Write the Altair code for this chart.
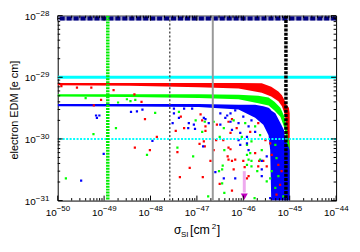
import altair as alt
import pandas as pd

W, H = 280, 186
FONT = "Liberation Sans"

# ---------------- data ----------------
# dense bands of scan points (x, upper edge, lower edge)
red_band_x = [1e-50, 3.5e-49, 1.1e-47, 7.9e-47, 2.5e-46, 4.0e-46, 5.7e-46, 6.8e-46, 7.7e-46, 8.5e-46, 9.1e-46, 9.6e-46, 1.0e-45]
red_band_top = [8.1e-30, 8.1e-30, 8.1e-30, 8.1e-30, 8.0e-30, 7.0e-30, 5.9e-30, 5.1e-30, 4.3e-30, 3.6e-30, 3.4e-30, 3.2e-30, 2.6e-30]
red_band_bot = [7.4e-30, 7.3e-30, 6.9e-30, 6.6e-30, 5.6e-30, 4.9e-30, 4.1e-30, 3.4e-30, 2.6e-30, 1.7e-30, 6.6e-31, 1.8e-31, 1.0e-31]

green_band_x = [1e-50, 3.5e-49, 1.1e-47, 7.9e-47, 2.1e-46, 3.5e-46, 4.7e-46, 6.3e-46, 7.7e-46, 8.5e-46, 9.1e-46, 1.0e-45]
green_band_top = [5.3e-30, 5.3e-30, 5.3e-30, 5.2e-30, 5.0e-30, 4.7e-30, 4.0e-30, 3.2e-30, 2.3e-30, 1.7e-30, 1.15e-30, 8.0e-31]
green_band_bot = [4.9e-30, 4.8e-30, 4.6e-30, 4.4e-30, 3.8e-30, 3.5e-30, 2.9e-30, 2.3e-30, 1.5e-30, 9.6e-31, 3.2e-31, 1.0e-31]

blue_band_x = [1e-50, 3.5e-49, 1.1e-47, 7.9e-47, 1.8e-46, 2.7e-46, 3.5e-46, 3.8e-46, 4.0e-46, 4.9e-46, 6.6e-46, 7.5e-46, 8.1e-46, 9.1e-46, 1.0e-45]
blue_band_top = [3.7e-30, 3.7e-30, 3.7e-30, 3.6e-30, 3.6e-30, 3.4e-30, 3.2e-30, 3.05e-30, 2.9e-30, 2.6e-30, 1.7e-30, 1.4e-30, 9.6e-31, 8.0e-31, 6.6e-31]
blue_band_bot = [3.4e-30, 3.35e-30, 3.3e-30, 3.0e-30, 2.2e-30, 1.7e-30, 1.15e-30, 6.6e-31, 1.0e-31, 1.0e-31, 1.0e-31, 1.0e-31, 1.0e-31, 1.0e-31, 1.0e-31]

# scattered scan points
red_x = [1.2e-50, 2.6e-50, 5.3e-50, 1.6e-49, 4.5e-49, 8.6e-50, 6.4e-49, 6.0e-50, 7.6e-49, 1.37e-48,
         4.6e-49, 9.7e-49, 1.41e-47, 1.14e-47, 3.8e-48, 7.0e-48, 4.3e-48, 1.34e-47, 2.3e-47, 2.6e-47,
         3.7e-47, 4.8e-47, 4.6e-47, 5.7e-47, 3.1e-47, 5.7e-47, 4.5e-48, 1.2e-47, 5.3e-48, 2.7e-47,
         4.8e-47, 1.53e-47, 3.5e-48, 1.53e-47, 1.48e-47, 1.3e-47, 5.3e-47, 4.8e-47, 1.07e-46, 1.8e-46,
         2.1e-46, 1.3e-46, 6.2e-47, 1.96e-47, 6.7e-47, 1.0e-46, 2.2e-46, 2.7e-46, 3.2e-46, 1.2e-46,
         4.1e-46, 5.7e-46, 6.2e-46, 5.2e-46, 3.8e-46, 6.7e-46, 3.0e-46, 5.7e-47, 7.2e-47, 1.41e-46,
         2.1e-46, 5.3e-47]
red_y = [7.2e-30, 6.8e-30, 6.8e-30, 6.2e-30, 5.3e-30, 4.3e-30, 4.0e-30, 3.5e-30, 2.1e-30, 1.08e-30,
         7.2e-31, 6.6e-31, 9.1e-31, 8.3e-31, 6.1e-31, 3.4e-31, 2.4e-31, 2.4e-31, 6.6e-31, 9.6e-31,
         9.6e-31, 7.2e-31, 5.2e-31, 4.4e-31, 1.86e-31, 1.45e-31, 2.3e-30, 2.5e-30, 1.5e-30, 1.7e-30,
         1.9e-30, 1.6e-30, 1.35e-30, 1.35e-30, 7.6e-31, 2.0e-30, 6.8e-31, 4.6e-31, 3.5e-31, 5.9e-31,
         3.6e-31, 2.5e-31, 3.2e-31, 4.4e-31, 4.6e-31, 4.4e-31, 4.4e-31, 4.4e-31, 3.6e-31, 2.3e-31,
         5.5e-31, 3.8e-31, 1.8e-31, 1.25e-31, 8.5e-31, 3.0e-31, 9.6e-31, 2.1e-30, 1.5e-30, 1.3e-30,
         1.8e-30, 1.25e-30]

green_x = [1.5e-50, 5.9e-50, 1.8e-49, 4.0e-50, 2.0e-49, 3.1e-49, 3.7e-49, 4.7e-49, 1.26e-48, 8.4e-49,
           3.8e-48, 8.3e-48, 3.1e-47, 3.9e-47, 3.6e-47, 3.0e-47, 3.5e-47, 3.9e-47, 1.75e-47, 4.1e-48,
           9.4e-48, 2.3e-47, 3.8e-47, 1.3e-47, 1.48e-47, 1.3e-46, 1.5e-46, 2.5e-46, 2.3e-46, 1.2e-46,
           1.5e-46, 3.8e-46, 3.5e-47, 1.2e-46, 1.41e-46, 1.5e-46, 1.2e-46, 2.0e-46, 3.2e-46, 1.75e-46,
           5.7e-46, 4.9e-46, 4.1e-46, 4.9e-46, 5.2e-46, 7.3e-46, 6.2e-47, 1.1e-46, 1.8e-46, 2.3e-46,
           9.3e-47]
green_y = [2.3e-31, 1.2e-30, 1.5e-30, 4.6e-30, 3.9e-30, 4.4e-30, 4.1e-30, 4.3e-30, 2.65e-30, 5.5e-31,
           7.2e-31, 5.2e-31, 1.08e-30, 6.6e-31, 3.7e-31, 3.0e-31, 1.9e-31, 1.33e-31, 1.17e-31, 2.75e-30,
           2.0e-30, 1.9e-30, 1.5e-30, 1.3e-30, 1.9e-30, 4.6e-31, 9.1e-31, 6.6e-31, 4.6e-31, 5.5e-31,
           3.6e-31, 2.3e-31, 3.2e-31, 8.0e-31, 5.9e-31, 4.4e-31, 3.8e-31, 3.0e-31, 2.05e-31, 1.1e-31,
           2.5e-31, 1.6e-31, 3.0e-31, 8.0e-31, 4.9e-31, 1.17e-31, 2.0e-30, 1.8e-30, 1.6e-30, 1.15e-30,
           1.08e-30]

blue_x = [6.7e-50, 7.9e-50, 7.0e-50, 3.8e-49, 5.1e-49, 6.7e-49, 1.1e-48, 9.8e-50, 3.2e-50, 1.36e-47,
          2.5e-47, 3.8e-47, 3.2e-48, 5.3e-48, 7.9e-48, 3.2e-48, 4.1e-48, 6.7e-48, 8.6e-48, 1.41e-47,
          1.8e-47, 3.2e-47, 4.5e-47, 5.3e-47, 3.2e-47, 4.1e-47, 3.0e-48, 6.5e-48, 9.1e-48, 1.53e-47,
          7.9e-47, 1.2e-46, 3.2e-46, 6.7e-47, 8.6e-47, 1.3e-46, 2.5e-46, 2.5e-46, 2.5e-46, 3.8e-46,
          5.3e-47, 6.7e-47, 7.9e-47, 5.7e-47, 1.0e-46, 1.3e-46, 8.6e-47, 1.5e-46, 1.2e-46, 1.8e-46]
blue_y = [2.4e-30, 2.4e-30, 2.2e-30, 2.75e-30, 2.8e-30, 3.0e-30, 9.3e-31, 5.7e-31, 2.1e-31, 7.6e-31,
          2.9e-31, 2.3e-31, 3.1e-30, 3.1e-30, 3.1e-30, 2.6e-30, 2.2e-30, 1.8e-30, 1.7e-30, 2.2e-30,
          1.8e-30, 2.6e-30, 2.4e-30, 1.9e-30, 1.7e-30, 2.2e-30, 1.8e-30, 1.5e-30, 1.45e-30, 2.1e-30,
          9.6e-31, 8.5e-31, 5.2e-31, 2.3e-31, 8.0e-31, 6.6e-31, 4.4e-31, 3.2e-31, 2.5e-31, 1.1e-31,
          2.6e-30, 2.9e-30, 1.8e-30, 1.4e-30, 2.3e-30, 1.6e-30, 1.25e-30, 2.0e-30, 1.08e-30, 1.3e-30]

# limit lines
cyan_solid_y = [1e-29]
cyan_dotted_y = [1e-30]
navy_dashed_y = [9.0e-29]
green_dashed_x = [1.2e-49]
black_dotted_x = [2.6e-48]
gray_solid_x = [2.2e-47]
black_dashed_x = [8.3e-46]
arrow_x = [1.05e-46]
arrow_top = [3.0e-31]
arrow_bottom = [1.35e-31]
arrow_head_y = [1.16e-31]

# axis ticks / labels
x_decades = [1e-50, 1e-49, 1e-48, 1e-47, 1e-46, 1e-45, 1e-44]
x_exps = ["\u221250", "\u221249", "\u221248", "\u221247", "\u221246", "\u221245", "\u221244"]
y_decades = [1e-31, 1e-30, 1e-29, 1e-28]
y_exps = ["\u221231", "\u221230", "\u221229", "\u221228"]
x_minor = [m * d for d in x_decades[:-1] for m in range(2, 10)]
y_minor = [m * d for d in y_decades[:-1] for m in range(2, 10)]

# ---------------- chart ----------------
xs = alt.Scale(type="log", domain=[1e-50, 1e-44], nice=False)
ys = alt.Scale(type="log", domain=[1e-31, 1e-28], nice=False)


def X(f="x"):
    return alt.X(f"{f}:Q", scale=xs, axis=None)


def Y(f="y"):
    return alt.Y(f"{f}:Q", scale=ys, axis=None)


def band(xv, top, bot, color):
    df = pd.DataFrame({"x": xv, "top": top, "bot": bot})
    return alt.Chart(df).mark_area(color=color, opacity=1, clip=True).encode(
        x=X(), y=Y("top"), y2=alt.Y2("bot:Q"))


def pts(xv, yv, color):
    df = pd.DataFrame({"x": xv, "y": yv})
    return alt.Chart(df).mark_square(size=5, color=color, opacity=1, clip=True).encode(x=X(), y=Y())


def hline(vals, **kw):
    return alt.Chart(pd.DataFrame({"y": vals})).mark_rule(clip=True, **kw).encode(y=Y())


def vline(vals, **kw):
    return alt.Chart(pd.DataFrame({"x": vals})).mark_rule(clip=True, **kw).encode(x=X())


layers = [
    band(red_band_x, red_band_top, red_band_bot, "#ff0000"),
    band(green_band_x, green_band_top, green_band_bot, "#00ff00"),
    band(blue_band_x, blue_band_top, blue_band_bot, "#0000ff"),
    pts(red_x, red_y, "#ff0000"),
    pts(green_x, green_y, "#00ff00"),
    pts(blue_x, blue_y, "#0000ff"),
    hline(cyan_solid_y, color="#00ffff", strokeWidth=3),
    hline(cyan_dotted_y, color="#00ffff", strokeWidth=2, strokeDash=[2, 1.5]),
    hline(navy_dashed_y, color="#9a9ac8", strokeWidth=4),
    hline(navy_dashed_y, color="#000080", strokeWidth=4, strokeDash=[5, 2]),
    vline(green_dashed_x, color="#00ee00", strokeWidth=3.5, strokeDash=[2, 1]),
    vline(black_dotted_x, color="#555555", strokeWidth=1.5, strokeDash=[2, 2]),
    vline(gray_solid_x, color="#999999", strokeWidth=2),
    vline(black_dashed_x, color="#000000", strokeWidth=3.5, strokeDash=[3, 1.3]),
]

arrow_df = pd.DataFrame({"x": arrow_x, "y": arrow_top, "y2": arrow_bottom, "yh": arrow_head_y})
layers.append(alt.Chart(arrow_df).mark_rule(color="#eeaaee", strokeWidth=3).encode(
    x=X(), y=Y(), y2=alt.Y2("y2:Q")))
layers.append(alt.Chart(arrow_df).mark_point(shape="triangle-down", filled=True, size=50,
                                             color="#c000c0", opacity=1).encode(x=X(), y=Y("yh")))

# inward ticks on all four sides
xmaj = pd.DataFrame({"x": x_decades})
xmin = pd.DataFrame({"x": x_minor})
ymaj = pd.DataFrame({"y": y_decades})
ymin = pd.DataFrame({"y": y_minor})
tk = dict(color="black", strokeWidth=1)
for df, ln in ((xmaj, 5), (xmin, 2.5)):
    layers.append(alt.Chart(df).mark_rule(**tk).encode(x=X(), y=alt.value(H), y2=alt.value(H - ln)))
    layers.append(alt.Chart(df).mark_rule(**tk).encode(x=X(), y=alt.value(0), y2=alt.value(ln)))
for df, ln in ((ymaj, 5), (ymin, 2.5)):
    layers.append(alt.Chart(df).mark_rule(**tk).encode(y=Y(), x=alt.value(0), x2=alt.value(ln)))
    layers.append(alt.Chart(df).mark_rule(**tk).encode(y=Y(), x=alt.value(W), x2=alt.value(W - ln)))

# tick labels 10^n
xl = pd.DataFrame({"x": x_decades, "e": x_exps})
layers.append(alt.Chart(xl).mark_text(align="right", baseline="alphabetic", font=FONT, fontSize=10,
                                      dx=-1, color="black").encode(
    x=X(), y=alt.value(H + 16), text=alt.value("10")))
layers.append(alt.Chart(xl).mark_text(align="left", baseline="alphabetic", font=FONT, fontSize=8,
                                      dx=-1, color="black").encode(
    x=X(), y=alt.value(H + 10), text="e:N"))
yl = pd.DataFrame({"y": y_decades, "e": y_exps})
layers.append(alt.Chart(yl).mark_text(align="right", baseline="alphabetic", font=FONT, fontSize=10,
                                      dy=4, color="black").encode(
    y=Y(), x=alt.value(-22), text=alt.value("10")))
layers.append(alt.Chart(yl).mark_text(align="left", baseline="alphabetic", font=FONT, fontSize=8,
                                      dy=0, color="black").encode(
    y=Y(), x=alt.value(-22), text="e:N"))

# axis titles
one = pd.DataFrame({"k": [0]})


def label(txt, x, y, size, angle=0, align="left", baseline="alphabetic"):
    return alt.Chart(one).mark_text(text=txt, font=FONT, fontSize=size, angle=angle, align=align,
                                    baseline=baseline, color="black").encode(
        x=alt.value(x), y=alt.value(y))


layers += [
    label("\u03c3", 117, 220, 12),
    label("SI", 124, 222.5, 8),
    label("[cm", 133, 220, 12.5),
    label("2", 155, 214.5, 8),
    label("]", 160, 220, 12.5),
    label("electron EDM [e cm]", -43, H / 2 + 2, 11, angle=270, align="center", baseline="middle"),
]

chart = alt.layer(*layers).properties(
    width=W, height=H,
    padding={"left": 50, "top": 7, "right": 16, "bottom": 43},
    autosize=alt.AutoSizeParams(type="none"),
    background="white",
).configure_view(stroke="black", strokeWidth=1)

chart.save("out.html", embed_options={"renderer": "svg", "actions": False})
